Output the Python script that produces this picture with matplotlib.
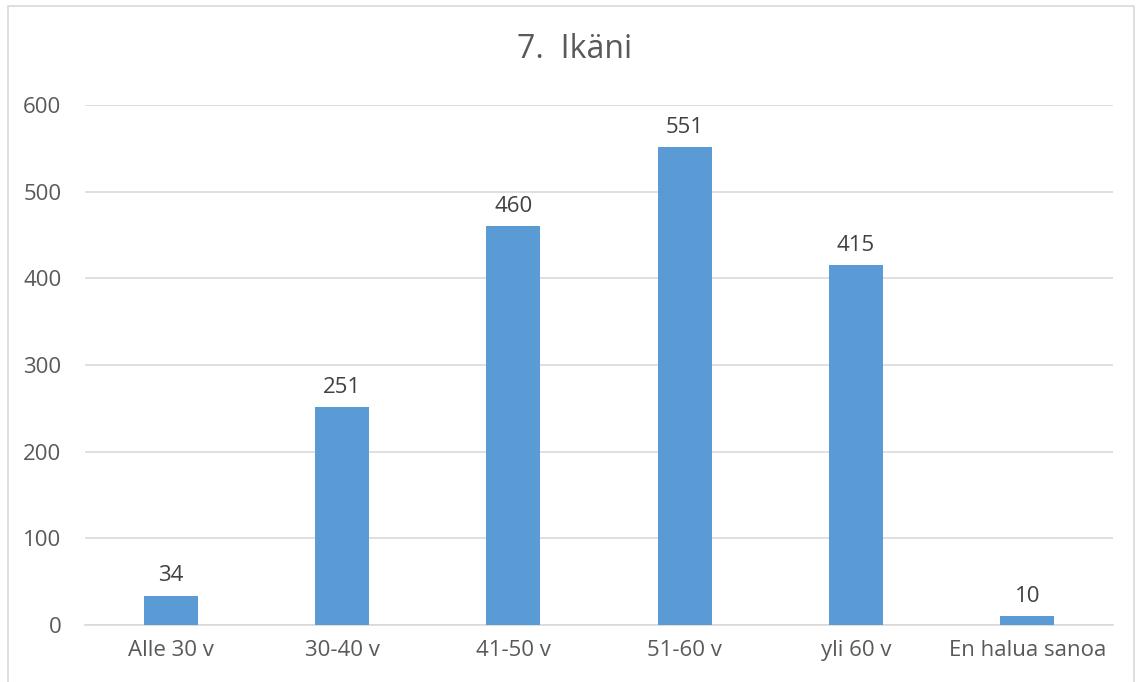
import matplotlib.pyplot as plt
from matplotlib.patches import Rectangle

# Data
categories = ['Alle 30 v', '30-40 v', '41-50 v', '51-60 v', 'yli 60 v', 'En halua sanoa']
values = [34, 251, 460, 551, 415, 10]
yticks = [0, 100, 200, 300, 400, 500, 600]

plt.rcParams['font.family'] = ['Open Sans', 'DejaVu Sans']
text_color = '#595959'

fig = plt.figure(figsize=(11.41, 6.82), dpi=100, facecolor='white')
ax = fig.add_axes([85/1141, 57/682, (1113-85)/1141, 520/682])

x = range(len(categories))
ax.bar(x, values, width=0.315, color='#5B9BD5', zorder=3)

for xi, v in zip(x, values):
    ax.annotate(str(v), (xi, v), xytext=(0, 7), textcoords='offset points',
                ha='center', va='bottom', fontsize=16, color='#404040')

ax.set_xlim(-0.5, len(categories) - 0.5)
ax.set_ylim(0, 600)
ax.set_yticks(yticks)
ax.set_xticks(list(x))
ax.set_xticklabels(categories)
ax.yaxis.grid(True, color='#D9D9D9', linewidth=1.2, zorder=0)
ax.set_axisbelow(True)

for side in ['top', 'right', 'left']:
    ax.spines[side].set_visible(False)
ax.spines['bottom'].set_color('#D9D9D9')
ax.spines['bottom'].set_linewidth(1.2)

ax.tick_params(axis='both', length=0, labelsize=16, colors=text_color)
ax.tick_params(axis='y', pad=17)
ax.tick_params(axis='x', pad=11)

fig.text(575/1141, 1 - 50/682, '7.  Ikäni', ha='center', va='center',
         fontsize=23, color=text_color)

# chart border
fig.patches.append(Rectangle((8/1141, -0.05), (1134-8)/1141, 1.05 - 6/682,
                             transform=fig.transFigure, fill=False,
                             edgecolor='#D9D9D9', linewidth=1.2))

fig.savefig('out.png', dpi=100)
